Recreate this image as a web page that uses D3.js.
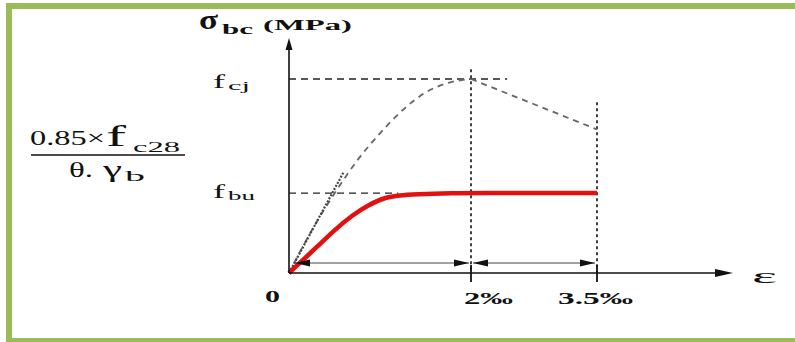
<!DOCTYPE html>
<html>
<head>
<meta charset="utf-8">
<script src="https://cdn.jsdelivr.net/npm/d3@7"></script>
<style>
  body { margin: 0; background: #fff; }
</style>
</head>
<body>
<div id="chart"></div>
<script>
// strain in per mille, stress relative to fcj
const idealStrain = [0, 0.25, 0.5, 0.75, 1, 1.25, 1.5, 1.75, 2];
const idealSigma = [0, 0.22, 0.41, 0.58, 0.72, 0.84, 0.93, 0.98, 1];
const softStrain = [2, 3.5];
const softSigma = [1, 0.74];
const designStrain = [0, 0.32, 0.5, 0.7, 0.87, 1.05, 1.24, 1.5, 1.8, 2, 3.5];
const designSigma = [0, 0.14, 0.222, 0.3, 0.35, 0.39, 0.402, 0.407, 0.411, 0.412, 0.412];
const tangentStrain = [0, 0.6];
const tangentSigma = [0, 0.52];
const fcj = 1;
const fbu = 0.412;
const tickStrains = [2, 3.5];
const tickLabels = ["2‰", "3.5‰"];

const width = 795, height = 342;
const serif = "'Liberation Serif', 'DejaVu Serif', serif";

const svg = d3.select("#chart").append("svg")
    .attr("width", width)
    .attr("height", height);

// green frame
const green = "#9bbb59";
svg.append("rect").attr("x", 6).attr("y", 3).attr("width", 789).attr("height", 6).attr("fill", green);
svg.append("rect").attr("x", 6).attr("y", 3).attr("width", 6).attr("height", 339).attr("fill", green);
svg.append("rect").attr("x", 6).attr("y", 338).attr("width", 789).attr("height", 4).attr("fill", green);

// schematic scales (not proportional beyond 2 per mille)
const x = d3.scaleLinear().domain([0, 2, 3.5, 5]).range([289, 471, 597, 733]);
const y = d3.scaleLinear().domain([0, 1]).range([273, 79]);

const line = d3.line().x(d => x(d[0])).y(d => y(d[1]));

function arrowHead(px, py, dir, len, half) {
  let pts;
  if (dir === "right") pts = [[px, py], [px - len, py - half], [px - len, py + half]];
  else if (dir === "left") pts = [[px, py], [px + len, py - half], [px + len, py + half]];
  else pts = [[px, py], [px - half, py + len], [px + half, py + len]];
  svg.append("polygon").attr("points", pts.map(p => p.join(",")).join(" ")).attr("fill", "#111");
}

// reference dashed lines
svg.append("line")
    .attr("x1", x(0)).attr("x2", x(2.43))
    .attr("y1", y(fcj)).attr("y2", y(fcj))
    .attr("stroke", "#222").attr("stroke-width", 1.3).attr("stroke-dasharray", "7,5");
svg.append("line")
    .attr("x1", x(0)).attr("x2", x(1.2))
    .attr("y1", y(fbu)).attr("y2", y(fbu))
    .attr("stroke", "#222").attr("stroke-width", 1.3).attr("stroke-dasharray", "7,5");

// vertical dotted lines at ticks
svg.selectAll(".vdot")
    .data([[2, 1.05], [3.5, 0.88]])
    .enter().append("line")
    .attr("x1", d => x(d[0])).attr("x2", d => x(d[0]))
    .attr("y1", d => y(d[1])).attr("y2", y(0))
    .attr("stroke", "#111").attr("stroke-width", 1.6).attr("stroke-dasharray", "3,3");

// ideal curve (dashed grey)
svg.append("path")
    .datum(idealStrain.map((e, i) => [e, idealSigma[i]]))
    .attr("d", d3.line().x(d => x(d[0])).y(d => y(d[1])).curve(d3.curveMonotoneX))
    .attr("fill", "none").attr("stroke", "#666").attr("stroke-width", 1.8).attr("stroke-dasharray", "6,5");
svg.append("path")
    .datum(softStrain.map((e, i) => [e, softSigma[i]]))
    .attr("d", line)
    .attr("fill", "none").attr("stroke", "#666").attr("stroke-width", 1.8).attr("stroke-dasharray", "6,5");

// tangent at origin (dotted)
svg.append("path")
    .datum(tangentStrain.map((e, i) => [e, tangentSigma[i]]))
    .attr("d", line)
    .attr("fill", "none").attr("stroke", "#444").attr("stroke-width", 2.2).attr("stroke-dasharray", "2,1.5");

// design curve (red)
svg.append("path")
    .datum(designStrain.map((e, i) => [e, designSigma[i]]))
    .attr("d", d3.line().x(d => x(d[0])).y(d => y(d[1])).curve(d3.curveBasis))
    .attr("fill", "none").attr("stroke", "#e31010").attr("stroke-width", 4.5);

// axes
svg.append("line").attr("x1", x(0)).attr("x2", x(0)).attr("y1", y(0)).attr("y2", 48)
    .attr("stroke", "#111").attr("stroke-width", 1.6);
arrowHead(x(0), 38, "up", 12, 3.5);
svg.append("line").attr("x1", x(0)).attr("x2", x(5) - 14).attr("y1", y(0)).attr("y2", y(0))
    .attr("stroke", "#111").attr("stroke-width", 1.4);
arrowHead(x(5), y(0), "right", 18, 4);

// ticks
svg.selectAll(".tick")
    .data(tickStrains)
    .enter().append("line")
    .attr("x1", d => x(d)).attr("x2", d => x(d))
    .attr("y1", y(0) - 8).attr("y2", y(0) + 9)
    .attr("stroke", "#111").attr("stroke-width", 1.8);

// dimension arrows
const dimY = y(0) - 10;
[[0, 2], [2, 3.5]].forEach(([a, b]) => {
  const xa = x(a) + (a === 0 ? 6 : 2), xb = x(b) - 2;
  svg.append("line").attr("x1", xa).attr("x2", xb).attr("y1", dimY).attr("y2", dimY)
      .attr("stroke", "#444").attr("stroke-width", 1.2);
  arrowHead(xa, dimY, "left", 15, 3.5);
  arrowHead(xb, dimY, "right", 15, 3.5);
});

function txt(s, px, py, size, w, opts = {}) {
  const t = svg.append("text")
      .attr("x", px).attr("y", py)
      .attr("font-family", serif)
      .attr("font-size", size)
      .attr("font-weight", opts.bold ? "bold" : "normal")
      .attr("fill", "#111")
      .text(s);
  if (w) t.attr("textLength", w).attr("lengthAdjust", "spacingAndGlyphs");
  return t;
}

// tick labels
txt("0", 265, 302, 16, 15, { bold: true });
txt(tickLabels[0], x(tickStrains[0]) - 7, 304, 16, 49, { bold: true });
txt(tickLabels[1], x(tickStrains[1]) - 39, 304, 16, 75, { bold: true });

// axis titles
txt("σ", 199, 29, 27, 19, { bold: true });
txt("bc", 222, 34, 14, 31, { bold: true });
txt("(MPa)", 263, 30, 14, 89, { bold: true });
txt("ε", 752, 283, 22, 25);

// level labels
txt("f", 213, 88, 19, 12);
txt("cj", 228, 90, 12, 22);
txt("f", 213, 198, 19, 12);
txt("bu", 228, 200, 12, 27);

// fraction for fbu
txt("0.85×", 30, 145, 22, 75);
txt("f", 106, 146, 30, 20);
txt("c28", 133, 152, 14, 47);
svg.append("line").attr("x1", 31).attr("x2", 185).attr("y1", 155).attr("y2", 155)
    .attr("stroke", "#111").attr("stroke-width", 1.3);
txt("θ.", 69, 177, 22, 24);
txt("γ", 103, 177, 24, 19);
txt("b", 125, 181, 14, 20);
</script>
</body>
</html>
